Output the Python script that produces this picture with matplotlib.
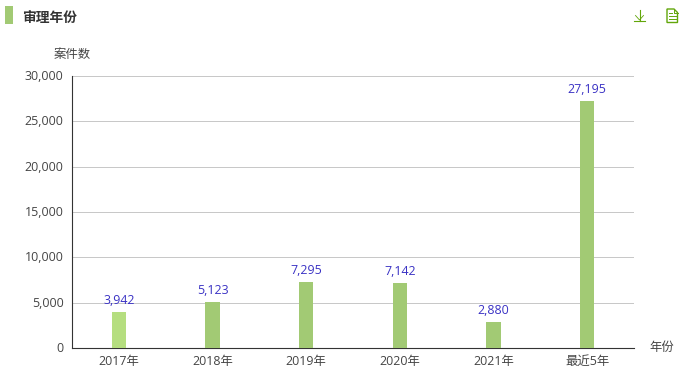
import numpy as np
import matplotlib
matplotlib.use('Agg')
import matplotlib.pyplot as plt
import matplotlib.transforms as mtrans
from matplotlib.patches import Rectangle, Polygon

plt.rcParams['font.family'] = ['Open Sans', 'Noto Sans CJK SC', 'DejaVu Sans']

# data
categories = ['2017年', '2018年', '2019年', '2020年', '2021年', '最近5年']
values = [3942, 5123, 7295, 7142, 2880, 27195]
bar_colors = ['#b5de7f', '#a2ca74', '#a2ca74', '#a2ca74', '#a2ca74', '#a2ca74']
yticks = [0, 5000, 10000, 15000, 20000, 25000, 30000]

W, H = 690, 374
fig = plt.figure(figsize=(W / 100, H / 100), dpi=100)

# axes placed by pixels
left, right, top, bottom = 72, 634, 76, 348
ax = fig.add_axes([left / W, 1 - bottom / H, (right - left) / W, (bottom - top) / H])

x = np.arange(len(categories))
ax.bar(x, values, width=0.15, color=bar_colors, zorder=3)
for i, v in enumerate(values):
    ax.annotate(f'{v:,}', (x[i], v), xytext=(0, 3.6), textcoords='offset points',
                ha='center', va='bottom', fontsize=8.9, color='#3a32c4', zorder=4)

ax.set_xlim(-0.5, 5.5)
ax.set_ylim(0, 30000)
ax.set_xticks(x)
ax.set_xticklabels(categories)
ax.set_yticks(yticks)
ax.set_yticklabels([f'{t:,}' for t in yticks])
ax.tick_params(axis='both', length=0, labelsize=8.9, labelcolor='#444444')
ax.tick_params(axis='x', pad=5)
ax.tick_params(axis='y', pad=6)
# y labels sit a pixel above the gridlines
up = mtrans.ScaledTranslation(0, 1 / 100, fig.dpi_scale_trans)
for lab in ax.get_yticklabels():
    lab.set_transform(lab.get_transform() + up)
ax.grid(axis='y', color='#c8c8c8', linewidth=0.72, zorder=0)
ax.set_axisbelow(True)
for s in ['top', 'right']:
    ax.spines[s].set_visible(False)
for s in ['left', 'bottom']:
    ax.spines[s].set_color('#333333')
    ax.spines[s].set_linewidth(0.8)

def px(xp, yp):
    return xp / W, 1 - yp / H

# header
fig.add_artist(Rectangle(px(5, 24), 8 / W, 18 / H, transform=fig.transFigure,
                         color='#a2ca74', lw=0))
fig.text(*px(22.5, 18), '审理年份', fontsize=9.9, fontweight='bold', color='#333333', va='center')
fig.text(*px(54, 54), '案件数', fontsize=8.9, color='#444444', va='center')
fig.text(*px(649, 347), '年份', fontsize=8.9, color='#444444', va='center')

# download icon
green = '#62a60a'
def seg(xs, ys, lw=0.8):
    fig.add_artist(plt.Line2D([a / W for a in xs], [1 - b / H for b in ys],
                              color=green, lw=lw, transform=fig.transFigure))
seg([639.5, 639.5], [10, 20.5])
seg([634, 645], [20.5, 20.5])
seg([635.5, 639.5, 643.5], [15.5, 20, 15.5], lw=0.6)

# file icon
fig.add_artist(Polygon([px(667, 9), px(674, 9), px(677.5, 12.5), px(677.5, 22.5), px(667, 22.5)],
                       closed=True, fill=False, edgecolor=green, lw=1.0,
                       transform=fig.transFigure))
seg([674, 674, 677.5], [9, 12.5, 12.5], lw=0.7)
seg([669, 672], [13, 13], lw=0.7)
seg([669, 675.5], [16, 16], lw=0.7)
seg([669, 675.5], [19, 19], lw=0.7)

fig.savefig('out.png', dpi=100)
